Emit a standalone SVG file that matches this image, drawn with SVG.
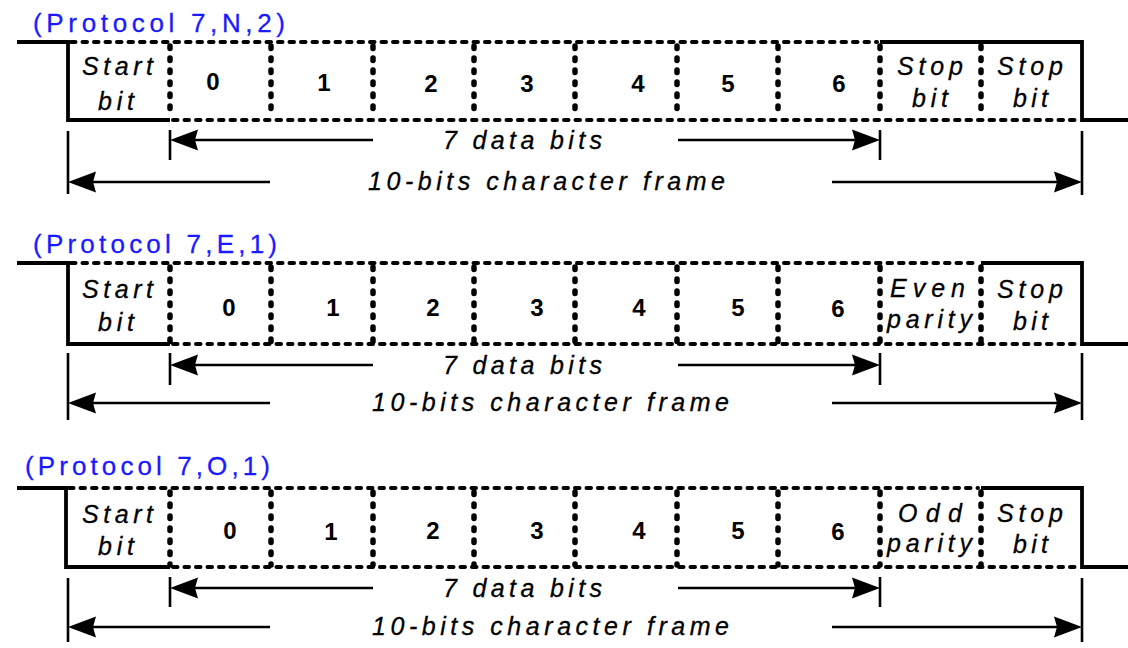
<svg xmlns="http://www.w3.org/2000/svg" width="1128" height="648" viewBox="0 0 1128 648">
<style>
text{font-family:"Liberation Sans",Arial,sans-serif;fill:#000}
.title{font-size:26px;fill:#1a1aff;stroke:#1a1aff;stroke-width:0.3}
.it{font-size:25px;font-style:italic;stroke:#000;stroke-width:0.3}
.num{font-size:24px;font-weight:bold;text-anchor:middle}
.solid{fill:none;stroke:#000;stroke-width:3.8;stroke-linejoin:miter}
.dash{fill:none;stroke:#000;stroke-width:4;stroke-linecap:round;stroke-dasharray:4.5 7}
.dot{fill:none;stroke:#000;stroke-width:5.5;stroke-linecap:round;stroke-dasharray:2.5 9.5}
.dim{fill:none;stroke:#000;stroke-width:2.4}
.tick{fill:none;stroke:#000;stroke-width:2.6}
</style>
<defs>
<path id="ahL" d="M0,0 L28,-10.5 L25,0 L28,10.5 Z" fill="#000"/>
<path id="ahR" d="M0,0 L-28,-10.5 L-25,0 L-28,10.5 Z" fill="#000"/>
</defs>

<!-- Panel 1 -->
<g id="panel1">
<text id="title1" class="title" x="33" y="32" textLength="252" lengthAdjust="spacing">(Protocol 7,N,2)</text>
<g id="wave1">
<path class="solid" d="M17,42 H68 V120 H170"/>
<path class="solid" d="M880,42 H1082 V120 H1128"/>
<path class="dash" d="M71,42 H877"/>
<path class="dash" d="M173,120 H1079"/>
<path class="dot" d="M170,46 V118 M271,46 V118 M373,46 V118 M474,46 V118 M575,46 V118 M677,46 V118 M778,46 V118 M880,46 V118 M981,46 V118"/>
</g>
<g id="p1-start"><text class="it" x="82" y="75" textLength="71" lengthAdjust="spacing">Start</text><text class="it" x="98" y="110" textLength="36" lengthAdjust="spacing">bit</text></g>
<g id="p1-bits">
<text class="num" x="213" y="90">0</text>
<text class="num" x="324" y="91">1</text>
<text class="num" x="431" y="92">2</text>
<text class="num" x="527" y="92">3</text>
<text class="num" x="638" y="92">4</text>
<text class="num" x="728" y="92">5</text>
<text class="num" x="839" y="92">6</text>
</g>
<g id="p1-stop1"><text class="it" x="897" y="75" textLength="66" lengthAdjust="spacing">Stop</text><text class="it" x="912" y="107" textLength="36" lengthAdjust="spacing">bit</text></g>
<g id="p1-stop2"><text class="it" x="997" y="75" textLength="66" lengthAdjust="spacing">Stop</text><text class="it" x="1013" y="107" textLength="35" lengthAdjust="spacing">bit</text></g>
<text id="p1-data" class="it" x="443" y="149" textLength="159" lengthAdjust="spacing">7 data bits</text>
<text id="p1-frame" class="it" x="368" y="190" textLength="357" lengthAdjust="spacing">10-bits character frame</text>
</g>

<!-- Panel 2 -->
<g id="panel2">
<text id="title2" class="title" x="33" y="253" textLength="244" lengthAdjust="spacing">(Protocol 7,E,1)</text>
<g id="wave2">
<path class="solid" d="M17,263 H68 V344 H170"/>
<path class="solid" d="M981,263 H1082 V344 H1128"/>
<path class="dash" d="M71,263 H978"/>
<path class="dash" d="M173,344 H1079"/>
<path class="dot" d="M170,267 V342 M271,267 V342 M373,267 V342 M474,267 V342 M575,267 V342 M677,267 V342 M778,267 V342 M880,267 V342 M981,267 V342"/>
</g>
<g id="p2-start"><text class="it" x="82" y="298" textLength="71" lengthAdjust="spacing">Start</text><text class="it" x="98" y="331" textLength="36" lengthAdjust="spacing">bit</text></g>
<g id="p2-bits">
<text class="num" x="229" y="316">0</text>
<text class="num" x="333" y="316">1</text>
<text class="num" x="433" y="316">2</text>
<text class="num" x="537" y="316">3</text>
<text class="num" x="639" y="316">4</text>
<text class="num" x="738" y="316">5</text>
<text class="num" x="838" y="317">6</text>
</g>
<g id="p2-parity"><text class="it" x="890" y="297" textLength="75" lengthAdjust="spacing">Even</text><text class="it" x="887" y="328" textLength="85" lengthAdjust="spacing">parity</text></g>
<g id="p2-stop"><text class="it" x="997" y="298" textLength="66" lengthAdjust="spacing">Stop</text><text class="it" x="1013" y="330" textLength="35" lengthAdjust="spacing">bit</text></g>
<text id="p2-data" class="it" x="443" y="374" textLength="159" lengthAdjust="spacing">7 data bits</text>
<text id="p2-frame" class="it" x="372" y="411" textLength="357" lengthAdjust="spacing">10-bits character frame</text>
</g>

<!-- Panel 3 -->
<g id="panel3">
<text id="title3" class="title" x="25" y="475" textLength="245" lengthAdjust="spacing">(Protocol 7,O,1)</text>
<g id="wave3">
<path class="solid" d="M17,488 H66 V567 H170"/>
<path class="solid" d="M981,488 H1082 V567 H1128"/>
<path class="dash" d="M69,488 H978"/>
<path class="dash" d="M173,567 H1079"/>
<path class="dot" d="M170,492 V565 M271,492 V565 M373,492 V565 M474,492 V565 M575,492 V565 M677,492 V565 M778,492 V565 M880,492 V565 M981,492 V565"/>
</g>
<g id="p3-start"><text class="it" x="82" y="523" textLength="71" lengthAdjust="spacing">Start</text><text class="it" x="98" y="555" textLength="36" lengthAdjust="spacing">bit</text></g>
<g id="p3-bits">
<text class="num" x="230" y="539">0</text>
<text class="num" x="331" y="540">1</text>
<text class="num" x="433" y="539">2</text>
<text class="num" x="537" y="539">3</text>
<text class="num" x="639" y="539">4</text>
<text class="num" x="738" y="539">5</text>
<text class="num" x="838" y="540">6</text>
</g>
<g id="p3-parity"><text class="it" x="898" y="522" textLength="64" lengthAdjust="spacing">Odd</text><text class="it" x="887" y="552" textLength="85" lengthAdjust="spacing">parity</text></g>
<g id="p3-stop"><text class="it" x="997" y="522" textLength="66" lengthAdjust="spacing">Stop</text><text class="it" x="1013" y="553" textLength="35" lengthAdjust="spacing">bit</text></g>
<text id="p3-data" class="it" x="443" y="597" textLength="159" lengthAdjust="spacing">7 data bits</text>
<text id="p3-frame" class="it" x="372" y="635" textLength="357" lengthAdjust="spacing">10-bits character frame</text>
</g>

<!-- Connectors: dimension arrows -->
<g id="connectors">
<!-- panel 1 -->
<path class="tick" d="M170,130 V160 M880,130 V160 M68,131 V194 M1082,131 V195"/>
<path class="dim" d="M190,140 H373 M678,140 H860 M88,182 H270 M832,182 H1062"/>
<use href="#ahL" x="170" y="140"/><use href="#ahR" x="880" y="140"/>
<use href="#ahL" x="68" y="182"/><use href="#ahR" x="1082" y="182"/>
<!-- panel 2 -->
<path class="tick" d="M170,353 V385 M880,353 V385 M68,353 V420 M1082,353 V420"/>
<path class="dim" d="M190,365 H373 M678,365 H860 M88,403 H270 M832,403 H1062"/>
<use href="#ahL" x="170" y="365"/><use href="#ahR" x="880" y="365"/>
<use href="#ahL" x="68" y="403"/><use href="#ahR" x="1082" y="403"/>
<!-- panel 3 -->
<path class="tick" d="M170,577 V607 M880,577 V607 M68,578 V642 M1082,578 V642"/>
<path class="dim" d="M190,588 H373 M678,588 H860 M88,627 H270 M832,627 H1062"/>
<use href="#ahL" x="170" y="588"/><use href="#ahR" x="880" y="588"/>
<use href="#ahL" x="68" y="627"/><use href="#ahR" x="1082" y="627"/>
</g>
</svg>
